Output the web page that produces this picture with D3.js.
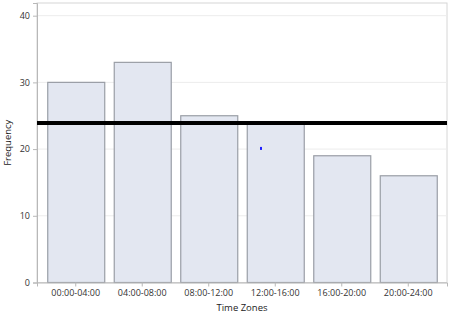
<!DOCTYPE html>
<html><head><meta charset="utf-8">
<script src="https://cdn.jsdelivr.net/npm/d3@7"></script>
<style>body{margin:0;background:#fff}svg{display:block}text{font-family:"Open Sans","DejaVu Sans",sans-serif}</style>
</head><body>
<svg id="c" width="450" height="318"></svg>
<script>
const categories = ["00:00-04:00","04:00-08:00","08:00-12:00","12:00-16:00","16:00-20:00","20:00-24:00"];
const frequencies = [30, 33, 25, 24, 19, 16];
const yTicks = [0, 10, 20, 30, 40];
const refLine = [23.9];
const markerPoint = [{cat: "12:00-16:00", value: 20.1, offset: -0.25}];

const svg = d3.select("#c");
const L = 37, R = 447, T = 3, B = 282.5;
const x = d3.scaleBand().domain(categories).range([L, R]).paddingInner(0.143).paddingOuter(0.154);
const y = d3.scaleLinear().domain([0, 41.9]).range([B, T]);

// frame
svg.append("rect").attr("x", L).attr("y", T).attr("width", R - L).attr("height", B - T)
  .attr("fill", "#fff").attr("stroke", "#d6d6d6").attr("stroke-width", 1);

// grid
svg.append("g").selectAll("line").data(yTicks.filter(d => d > 0)).join("line")
  .attr("x1", L).attr("x2", R).attr("y1", d => y(d)).attr("y2", d => y(d))
  .attr("stroke", "#ececec").attr("stroke-width", 1);

// bars
svg.append("g").selectAll("rect").data(categories).join("rect")
  .attr("x", d => x(d) + 0.5).attr("y", (d, i) => y(frequencies[i]))
  .attr("width", x.bandwidth()).attr("height", (d, i) => B - y(frequencies[i]))
  .attr("fill", "#e3e7f1").attr("stroke", "#9a9ea6").attr("stroke-width", 1.2);

// axes
const yAxis = svg.append("g").attr("transform", `translate(${L},0)`)
  .call(d3.axisLeft(y).tickValues(yTicks).tickSize(4).tickPadding(3));
const xAxis = svg.append("g").attr("transform", `translate(0,${B})`)
  .call(d3.axisBottom(x).tickSize(4).tickPadding(3));
[yAxis, xAxis].forEach(g => {
  g.select(".domain").attr("stroke", "#b8b8b8");
  g.selectAll(".tick line").attr("stroke", "#b8b8b8");
  g.selectAll(".tick text").attr("fill", "#333").attr("font-size", 9);
});

// reference line
svg.append("g").selectAll("line").data(refLine).join("line")
  .attr("x1", L).attr("x2", R).attr("y1", d => y(d)).attr("y2", d => y(d))
  .attr("stroke", "#000").attr("stroke-width", 4);

// marker
svg.append("g").selectAll("rect").data(markerPoint).join("rect")
  .attr("x", d => x(d.cat) + x.bandwidth() * (0.5 + d.offset) - 1)
  .attr("y", d => y(d.value) - 1.5).attr("width", 2).attr("height", 3).attr("fill", "#2020ff");

// labels
svg.append("text").attr("x", (L + R) / 2).attr("y", 311).attr("text-anchor", "middle")
  .attr("font-size", 9.5).attr("fill", "#222").text("Time Zones");
svg.append("text").attr("transform", `translate(11,${(T + B) / 2}) rotate(-90)`).attr("text-anchor", "middle")
  .attr("font-size", 9.5).attr("fill", "#222").text("Frequency");
</script>
</body></html>
